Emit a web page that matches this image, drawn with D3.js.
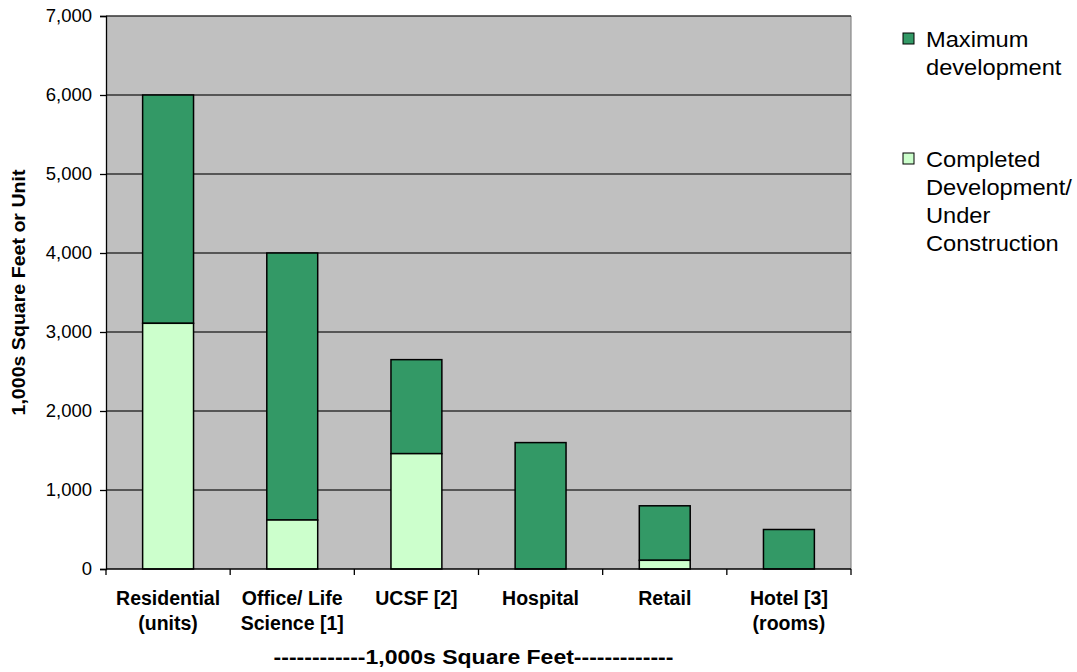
<!DOCTYPE html>
<html>
<head>
<meta charset="utf-8">
<script src="https://cdn.jsdelivr.net/npm/d3@7"></script>
<style>
  html, body { margin: 0; padding: 0; background: #ffffff; }
  svg { display: block; font-family: "Liberation Sans", Arial, sans-serif; }
</style>
</head>
<body>
<svg id="chart" width="1077" height="672"></svg>
<script>
// Development categories (each label split into display lines)
const categories = ["Residential", "Office/ Life Science", "UCSF", "Hospital", "Retail", "Hotel"];
const categoryLabels = [
  ["Residential", "(units)"],
  ["Office/ Life", "Science [1]"],
  ["UCSF [2]"],
  ["Hospital"],
  ["Retail"],
  ["Hotel [3]", "(rooms)"]
];
// Completed / under construction (lower segment)
const completedValues = [3110, 620, 1460, 0, 110, 0];
// Maximum development (full bar height)
const maximumValues = [6000, 4000, 2650, 1600, 800, 500];
const yTicks = [0, 1000, 2000, 3000, 4000, 5000, 6000, 7000];

const seriesNames = ["Maximum development", "Completed Development/ Under Construction"];
const legendLines = [["Maximum", "development"], ["Completed", "Development/", "Under", "Construction"]];

const colors = { maximum: "#339966", completed: "#ccffcc", plot: "#c0c0c0", grid: "#333333" };

const svg = d3.select("#chart");
const plot = { left: 106, top: 16, right: 851, bottom: 569 };

const x = d3.scaleBand().domain(categories).range([plot.left, plot.right]).paddingInner(0.59).paddingOuter(0.295);
const xOuter = d3.scaleBand().domain(categories).range([plot.left, plot.right]);
const y = d3.scaleLinear().domain([0, 7000]).range([plot.bottom, plot.top]);

// Plot background
svg.append("rect")
  .attr("x", plot.left).attr("y", plot.top)
  .attr("width", plot.right - plot.left).attr("height", plot.bottom - plot.top)
  .attr("fill", colors.plot);

// Right edge of the plot area
svg.append("line")
  .attr("x1", plot.right).attr("x2", plot.right)
  .attr("y1", plot.top).attr("y2", plot.bottom)
  .attr("stroke", "#888888").attr("stroke-width", 1.2);

// Horizontal gridlines
svg.append("g").selectAll("line")
  .data(yTicks.filter(d => d > 0))
  .join("line")
  .attr("x1", plot.left).attr("x2", plot.right)
  .attr("y1", d => y(d)).attr("y2", d => y(d))
  .attr("stroke", colors.grid).attr("stroke-width", 1.3);

// Stacked bars: maximum on top, completed below
const bars = svg.append("g");
bars.selectAll("rect.max")
  .data(categories)
  .join("rect")
  .attr("class", "max")
  .attr("x", d => x(d))
  .attr("width", x.bandwidth())
  .attr("y", (d, i) => y(maximumValues[i]))
  .attr("height", (d, i) => y(completedValues[i]) - y(maximumValues[i]))
  .attr("fill", colors.maximum)
  .attr("stroke", "#000").attr("stroke-width", 1.5);

bars.selectAll("rect.done")
  .data(categories.filter((d, i) => completedValues[i] > 0))
  .join("rect")
  .attr("class", "done")
  .attr("x", d => x(d))
  .attr("width", x.bandwidth())
  .attr("y", d => y(completedValues[categories.indexOf(d)]))
  .attr("height", d => y(0) - y(completedValues[categories.indexOf(d)]))
  .attr("fill", colors.completed)
  .attr("stroke", "#000").attr("stroke-width", 1.5);

// Y axis
const yAxis = svg.append("g")
  .attr("transform", `translate(${plot.left},0)`)
  .call(d3.axisLeft(y).tickValues(yTicks).tickSize(6).tickPadding(8).tickFormat(d3.format(",")));
yAxis.select(".domain").attr("stroke", "#000").attr("stroke-width", 1.3);
yAxis.selectAll(".tick line").attr("stroke", "#000").attr("stroke-width", 1.3);
yAxis.selectAll(".tick text")
  .attr("font-size", 18.5).attr("font-family", "Liberation Sans, Arial, sans-serif")
  .attr("fill", "#000");

// X axis with ticks at category boundaries
const xAxisG = svg.append("g");
xAxisG.append("line")
  .attr("x1", plot.left).attr("x2", plot.right)
  .attr("y1", plot.bottom).attr("y2", plot.bottom)
  .attr("stroke", "#000").attr("stroke-width", 1.3);
const boundaries = categories.map(d => xOuter(d)).concat([xOuter(categories[categories.length - 1]) + xOuter.bandwidth()]);
xAxisG.selectAll("line.tick")
  .data(boundaries)
  .join("line")
  .attr("class", "tick")
  .attr("x1", d => d).attr("x2", d => d)
  .attr("y1", plot.bottom).attr("y2", plot.bottom + 6)
  .attr("stroke", "#000").attr("stroke-width", 1.3);

// Category labels
categoryLabels.forEach((lines, i) => {
  const cx = xOuter(categories[i]) + xOuter.bandwidth() / 2;
  lines.forEach((line, j) => {
    svg.append("text")
      .attr("transform", `translate(${cx},${605 + j * 24.5}) scale(1.0,1)`)
      .attr("text-anchor", "middle")
      .attr("font-size", 19.5).attr("font-weight", "bold")
      .attr("fill", "#000")
      .text(line);
  });
});

// X axis title
svg.append("text")
  .attr("transform", `translate(${(plot.left + plot.right) / 2 - 5},664) scale(1.15,1)`)
  .attr("text-anchor", "middle")
  .attr("font-size", 20).attr("font-weight", "bold")
  .attr("fill", "#000")
  .text("------------1,000s Square Feet-------------");

// Y axis title
svg.append("text")
  .attr("transform", `translate(25,${(plot.top + plot.bottom) / 2}) rotate(-90) scale(1.12,1)`)
  .attr("text-anchor", "middle")
  .attr("font-size", 17.5).attr("font-weight", "bold")
  .attr("fill", "#000")
  .text("1,000s Square Feet or Unit");

// Legend
const legendColors = [colors.maximum, colors.completed];
const legendTops = [33, 153];
const legend = svg.append("g");
seriesNames.forEach((name, i) => {
  const top = legendTops[i];
  legend.append("rect")
    .attr("x", 903).attr("y", top)
    .attr("width", 11).attr("height", 11)
    .attr("fill", legendColors[i])
    .attr("stroke", "#000").attr("stroke-width", 1);
  legendLines[i].forEach((line, j) => {
    legend.append("text")
      .attr("transform", `translate(926,${top + 13.5 + j * 28.3}) scale(1.1,1)`)
      .attr("font-size", 21.5)
      .attr("fill", "#000")
      .text(line);
  });
});
</script>
</body>
</html>
